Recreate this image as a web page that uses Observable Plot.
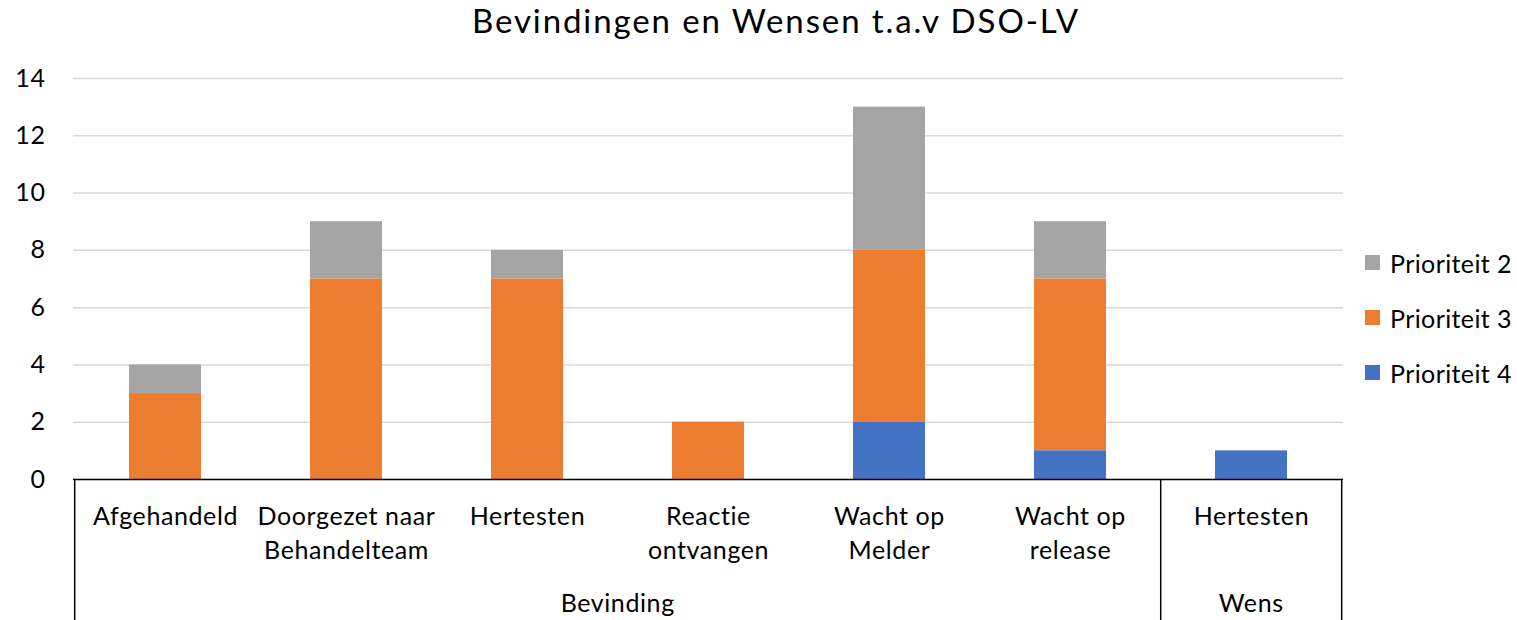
<!DOCTYPE html>
<html>
<head>
<meta charset="utf-8">
<script src="https://cdn.jsdelivr.net/npm/d3@7"></script>
<script src="https://cdn.jsdelivr.net/npm/@observablehq/plot@0.6"></script>
<style>
  html, body { margin: 0; padding: 0; background: #fff; }
  body { font-family: Lato, "Open Sans", sans-serif; color: #000; }
  #wrap { position: relative; width: 1517px; height: 620px; overflow: hidden; }
  #title { position: absolute; left: 776px; top: 0px; transform: translateX(-50%); white-space: nowrap;
           font-size: 33px; line-height: normal; letter-spacing: 1.9px; }
  #legend { position: absolute; left: 1365px; top: 235px; }
  .item { display: flex; align-items: center; height: 55px; font-size: 25px; letter-spacing: 0.4px; }
  .sw { width: 15px; height: 15px; margin-right: 10px; }
  #chart svg { display: block; }
  #chart svg text { letter-spacing: 0.6px; }
</style>
</head>
<body>
<div id="wrap">
  <div id="chart"></div>
  <div id="title">Bevindingen en Wensen t.a.v DSO-LV</div>
  <div id="legend"></div>
</div>
<script>
// ---- Data ----
const groups = ["Bevinding", "Bevinding", "Bevinding", "Bevinding", "Bevinding", "Bevinding", "Wens"];
const categories = ["Afgehandeld", "Doorgezet naar\nBehandelteam", "Hertesten", "Reactie\nontvangen", "Wacht op\nMelder", "Wacht op\nrelease", "Hertesten"];
const prioriteit2 = [1, 2, 1, 0, 5, 2, 0];
const prioriteit3 = [3, 7, 7, 2, 6, 6, 0];
const prioriteit4 = [0, 0, 0, 0, 2, 1, 1];
const seriesNames = ["Prioriteit 2", "Prioriteit 3", "Prioriteit 4"];
const seriesColors = ["#a5a5a5", "#ed7d31", "#4472c4"];
const yTicks = [0, 2, 4, 6, 8, 10, 12, 14];

// ---- Build table ----
const keys = categories.map((c, i) => groups[i] + "|" + c);
const seriesValues = [prioriteit2, prioriteit3, prioriteit4];
const data = [];
seriesNames.forEach((s, j) => {
  keys.forEach((k, i) => {
    const v = seriesValues[j][i];
    if (v > 0) data.push({key: k, series: s, value: v});
  });
});

const PAD_INNER = 0.6;

function groupAxis(index, scales, values, dims) {
  const x = scales.x;
  const step = x(keys[1]) - x(keys[0]);
  const half = step * PAD_INNER / 2;
  const bw = step * (1 - PAD_INNER);
  const yAxis = dims.height - dims.marginBottom;
  const g = d3.create("svg:g");
  const spans = [];
  groups.forEach((grp, i) => {
    const left = x(keys[i]) - half;
    const right = x(keys[i]) + bw + half;
    const last = spans[spans.length - 1];
    if (last && last.name === grp) last.right = right;
    else spans.push({name: grp, left, right});
  });
  const bounds = spans.map(s => s.left).concat([spans[spans.length - 1].right]);
  g.selectAll("line").data(bounds).join("line")
    .attr("x1", d => d).attr("x2", d => d)
    .attr("y1", yAxis).attr("y2", dims.height)
    .attr("stroke", "#000").attr("stroke-width", 1.5);
  g.selectAll("text").data(spans).join("text")
    .attr("x", d => (d.left + d.right) / 2)
    .attr("y", yAxis + 133)
    .attr("text-anchor", "middle")
    .attr("font-size", 25)
    .attr("fill", "#000")
    .text(d => d.name);
  return g.node();
}

const chart = Plot.plot({
  width: 1517,
  height: 620,
  marginTop: 78,
  marginBottom: 141,
  marginLeft: 73,
  marginRight: 174,
  style: {fontFamily: "Lato, 'Open Sans', sans-serif", fontSize: "25px", color: "#000", background: "#fff"},
  x: {domain: keys, paddingInner: PAD_INNER, paddingOuter: PAD_INNER / 2, label: null},
  y: {domain: [0, 14], label: null},
  color: {domain: seriesNames, range: seriesColors},
  marks: [
    Plot.gridY(yTicks, {stroke: "#d9d9d9", strokeOpacity: 1, strokeWidth: 1.5}),
    Plot.barY(data, {x: "key", y: "value", fill: "series", order: ["Prioriteit 4", "Prioriteit 3", "Prioriteit 2"]}),
    Plot.ruleY([0], {stroke: "#000", strokeWidth: 1.5}),
    Plot.axisY(yTicks, {tickSize: 0, tickPadding: 28, fontSize: 25, label: null}),
    Plot.axisX({tickSize: 0, tickPadding: 21, fontSize: 25, lineHeight: 1.36, label: null,
                tickFormat: d => d.split("|")[1]}),
    groupAxis
  ]
});
document.getElementById("chart").appendChild(chart);

// ---- Legend (from the same color scale) ----
const color = chart.scale("color");
const legend = document.getElementById("legend");
color.domain.forEach((s, i) => {
  const item = document.createElement("div");
  item.className = "item";
  const sw = document.createElement("div");
  sw.className = "sw";
  sw.style.background = color.range[i];
  const lab = document.createElement("span");
  lab.textContent = s;
  item.appendChild(sw);
  item.appendChild(lab);
  legend.appendChild(item);
});
</script>
</body>
</html>
